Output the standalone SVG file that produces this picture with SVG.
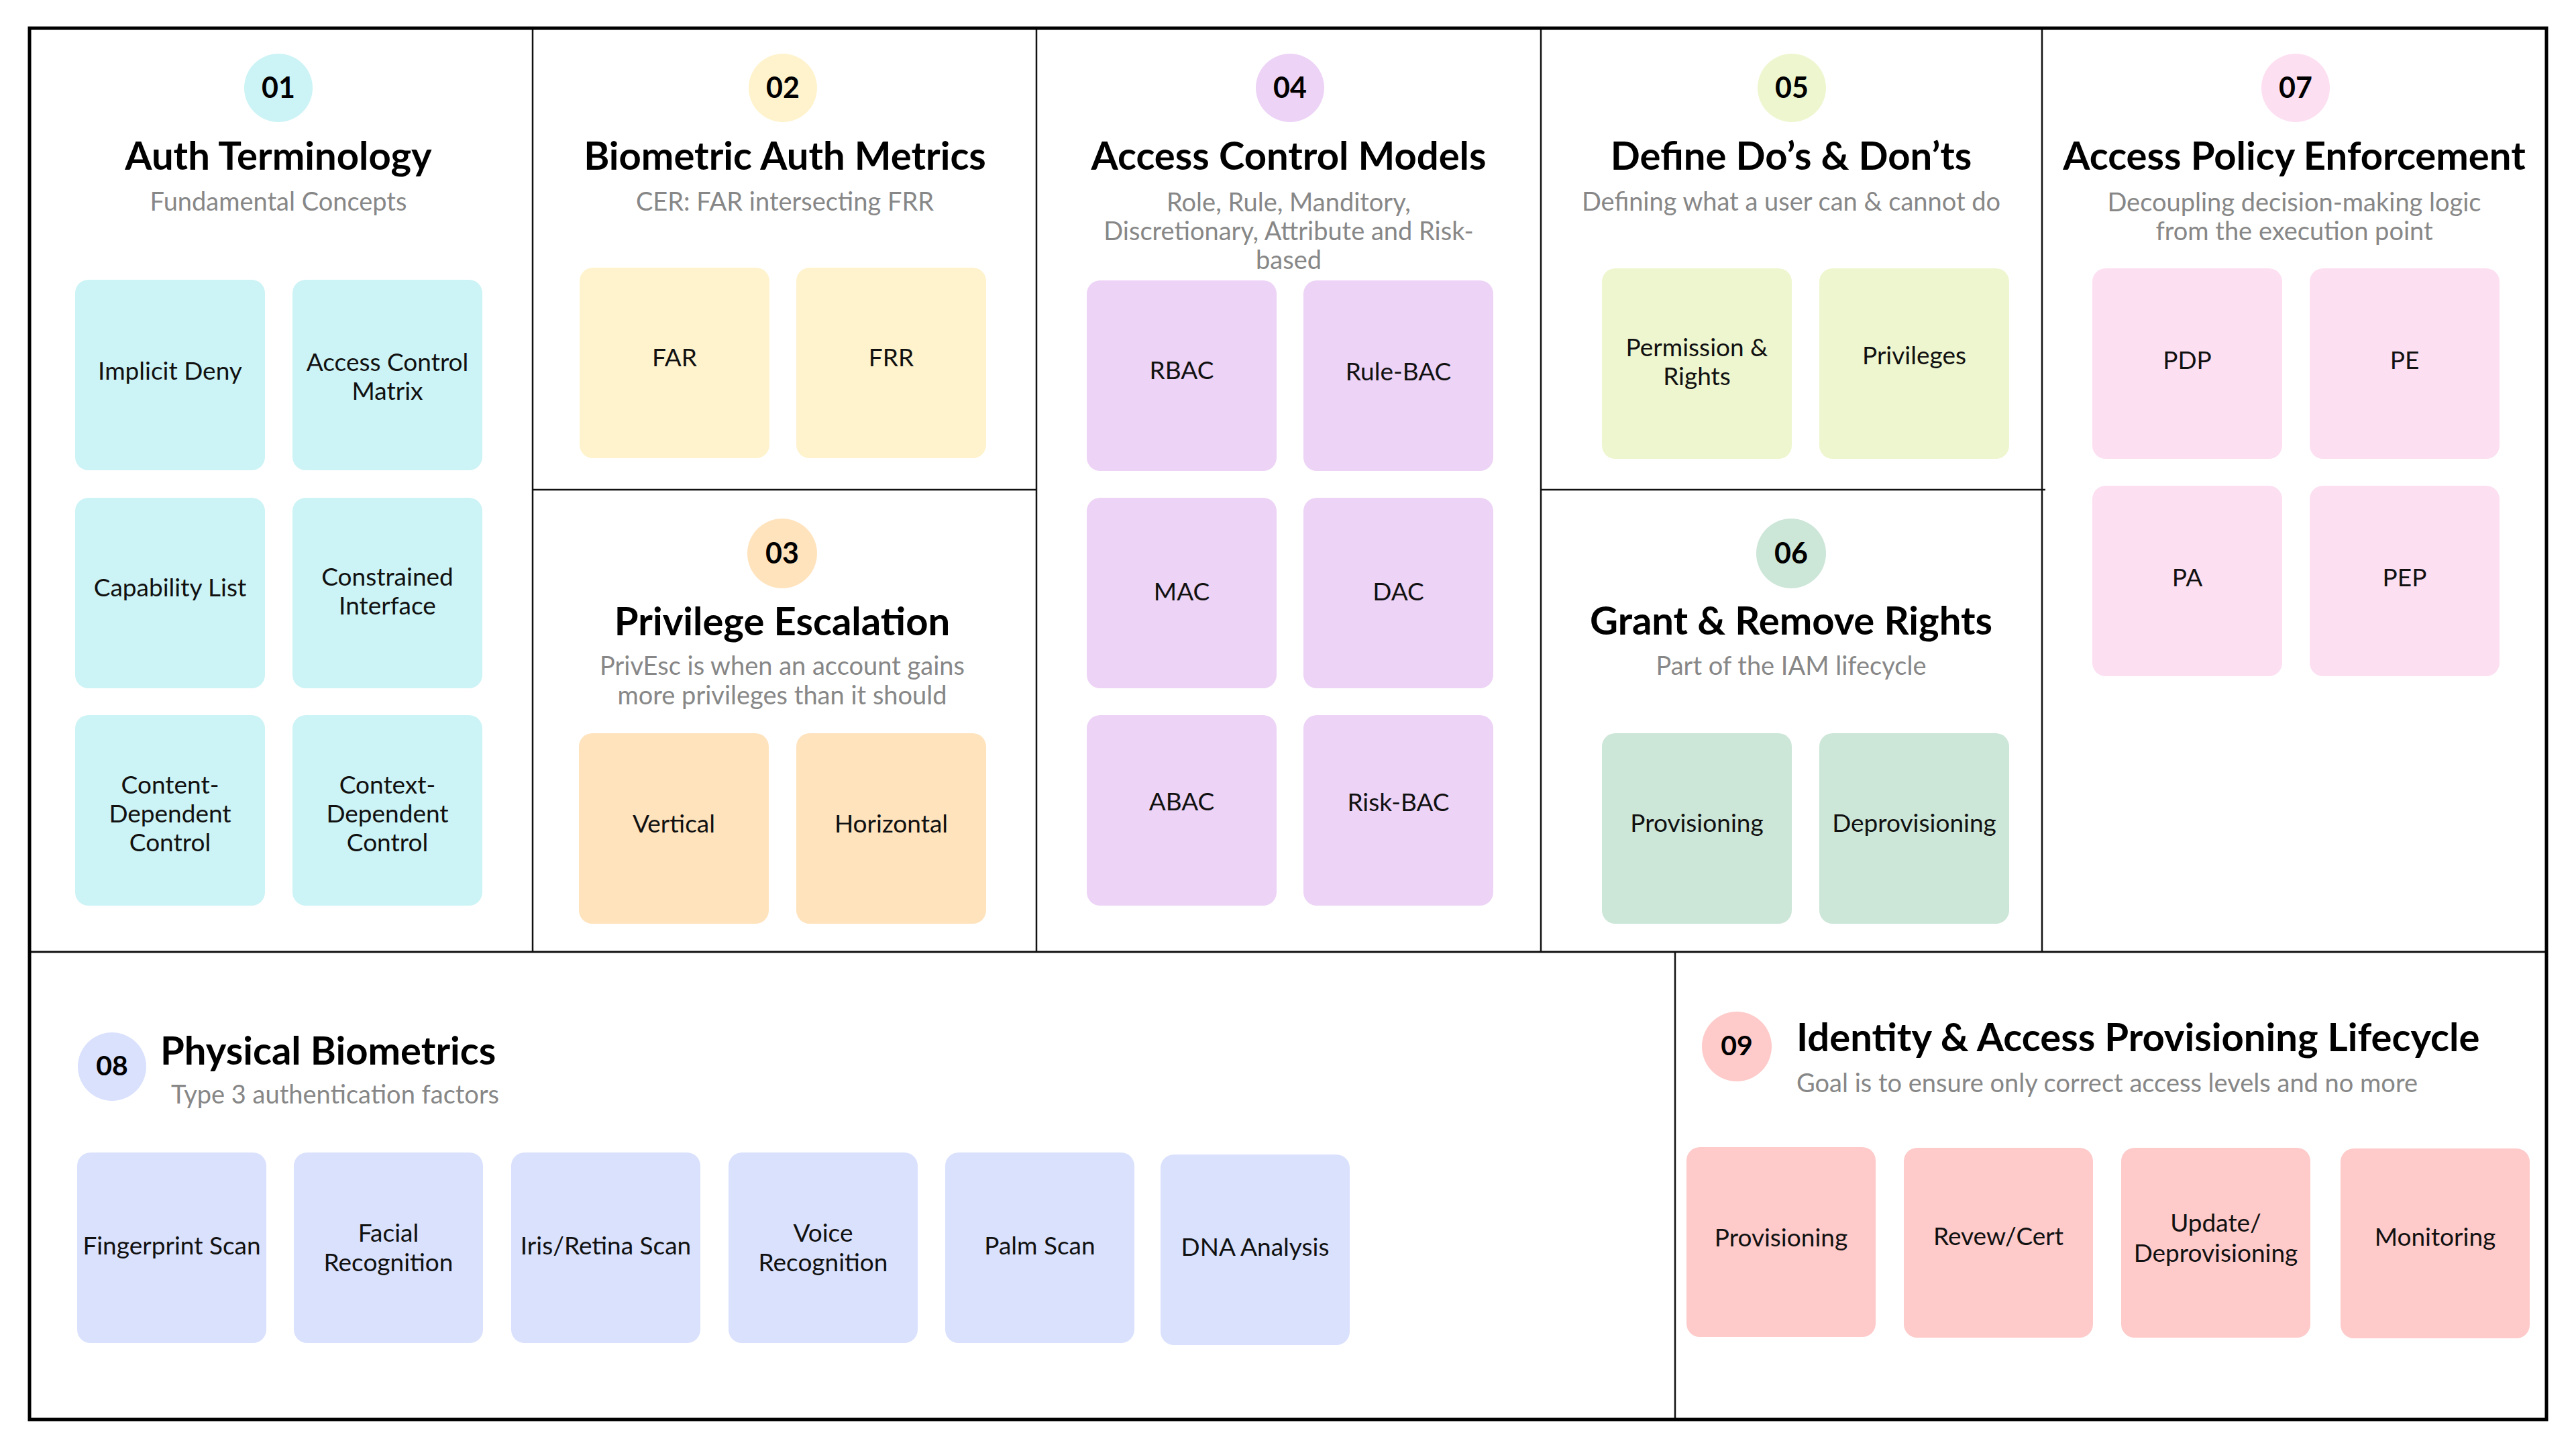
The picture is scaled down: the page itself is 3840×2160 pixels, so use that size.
<svg xmlns="http://www.w3.org/2000/svg" width="3840" height="2160" viewBox="0 0 3840 2160">
<style>
text{font-family:Lato,"Liberation Sans",sans-serif}
.ttl{font-size:58px;font-weight:700;fill:#000;text-anchor:middle}
.ttlL{font-size:58px;font-weight:700;fill:#000}
.sub{font-size:38px;fill:#878787;text-anchor:middle}
.subL{font-size:38px;fill:#878787}
.num{font-size:43px;font-weight:700;fill:#000;text-anchor:middle}
.nt{font-size:37px;fill:#111;text-anchor:middle}
.ln{stroke:#111;stroke-width:2.5;fill:none}
.c1{fill:#ccf3f5}.c2{fill:#fff3cd}.c3{fill:#ffe3bd}.c4{fill:#edd3f6}.c5{fill:#eef6cf}.c6{fill:#cce6d8}.c7{fill:#fddff2}.c8{fill:#dae1fd}.c9{fill:#fecaca}
</style>
<rect width="3840" height="2160" fill="#fff"/>
<g id="grid">
<line class="ln" x1="794" y1="42" x2="794" y2="1418"/>
<line class="ln" x1="1545" y1="42" x2="1545" y2="1418"/>
<line class="ln" x1="2297" y1="42" x2="2297" y2="1418"/>
<line class="ln" x1="3044" y1="42" x2="3044" y2="1418"/>
<line class="ln" x1="794" y1="730" x2="1545" y2="730"/>
<line class="ln" x1="2297" y1="730" x2="3049" y2="730"/>
<line class="ln" x1="44" y1="1419" x2="3796" y2="1419" style="stroke-width:3"/>
<line class="ln" x1="2497" y1="1419" x2="2497" y2="2116"/>
<rect x="44" y="42" width="3752" height="2074" fill="none" stroke="#000" stroke-width="5"/>
</g>
<g id="connectors"></g>

<g id="sec01">
<circle class="c1" cx="415" cy="131" r="51"/>
<text class="num" x="415" y="146">01</text>
<text class="ttl" x="415" y="253">Auth Terminology</text>
<text class="sub" x="415" y="314">Fundamental Concepts</text>
<g id="n-implicit-deny"><rect class="c1" x="112" y="417" width="283" height="284" rx="20"/><text class="nt" x="253.5" y="566">Implicit Deny</text></g>
<g id="n-acm"><rect class="c1" x="436" y="417" width="283" height="284" rx="20"/><text class="nt" x="577.5" y="553">Access Control</text><text class="nt" x="577.5" y="596">Matrix</text></g>
<g id="n-capability-list"><rect class="c1" x="112" y="742" width="283" height="284" rx="20"/><text class="nt" x="253.5" y="889">Capability List</text></g>
<g id="n-constrained"><rect class="c1" x="436" y="742" width="283" height="284" rx="20"/><text class="nt" x="577.5" y="873">Constrained</text><text class="nt" x="577.5" y="916">Interface</text></g>
<g id="n-content-dep"><rect class="c1" x="112" y="1066" width="283" height="284" rx="20"/><text class="nt" x="253.5" y="1183">Content-</text><text class="nt" x="253.5" y="1226">Dependent</text><text class="nt" x="253.5" y="1269">Control</text></g>
<g id="n-context-dep"><rect class="c1" x="436" y="1066" width="283" height="284" rx="20"/><text class="nt" x="577.5" y="1183">Context-</text><text class="nt" x="577.5" y="1226">Dependent</text><text class="nt" x="577.5" y="1269">Control</text></g>
</g>

<g id="sec02">
<circle class="c2" cx="1167" cy="131" r="51"/>
<text class="num" x="1167" y="146">02</text>
<text class="ttl" x="1170" y="253">Biometric Auth Metrics</text>
<text class="sub" x="1170" y="314">CER: FAR intersecting FRR</text>
<g id="n-far"><rect class="c2" x="864" y="399" width="283" height="284" rx="20"/><text class="nt" x="1005.5" y="546">FAR</text></g>
<g id="n-frr"><rect class="c2" x="1187" y="399" width="283" height="284" rx="20"/><text class="nt" x="1328.5" y="546">FRR</text></g>
</g>

<g id="sec03">
<circle class="c3" cx="1166" cy="825" r="52"/>
<text class="num" x="1166" y="840">03</text>
<text class="ttl" x="1166" y="947">Privilege Escalation</text>
<text class="sub" x="1166" y="1006">PrivEsc is when an account gains</text>
<text class="sub" x="1166" y="1050">more privileges than it should</text>
<g id="n-vertical"><rect class="c3" x="863" y="1093" width="283" height="284" rx="20"/><text class="nt" x="1004.5" y="1241">Vertical</text></g>
<g id="n-horizontal"><rect class="c3" x="1187" y="1093" width="283" height="284" rx="20"/><text class="nt" x="1328.5" y="1241">Horizontal</text></g>
</g>

<g id="sec04">
<circle class="c4" cx="1923" cy="131" r="51"/>
<text class="num" x="1923" y="146">04</text>
<text class="ttl" x="1921" y="253">Access Control Models</text>
<text class="sub" x="1921" y="315">Role, Rule, Manditory,</text>
<text class="sub" x="1921" y="358">Discretionary, Attribute and Risk-</text>
<text class="sub" x="1921" y="401">based</text>
<g id="n-rbac"><rect class="c4" x="1620" y="418" width="283" height="284" rx="20"/><text class="nt" x="1761.5" y="565">RBAC</text></g>
<g id="n-rule-bac"><rect class="c4" x="1943" y="418" width="283" height="284" rx="20"/><text class="nt" x="2084.5" y="567">Rule-BAC</text></g>
<g id="n-mac"><rect class="c4" x="1620" y="742" width="283" height="284" rx="20"/><text class="nt" x="1761.5" y="895">MAC</text></g>
<g id="n-dac"><rect class="c4" x="1943" y="742" width="283" height="284" rx="20"/><text class="nt" x="2084.5" y="895">DAC</text></g>
<g id="n-abac"><rect class="c4" x="1620" y="1066" width="283" height="284" rx="20"/><text class="nt" x="1761.5" y="1208">ABAC</text></g>
<g id="n-risk-bac"><rect class="c4" x="1943" y="1066" width="283" height="284" rx="20"/><text class="nt" x="2084.5" y="1209">Risk-BAC</text></g>
</g>

<g id="sec05">
<circle class="c5" cx="2671" cy="131" r="51"/>
<text class="num" x="2671" y="146">05</text>
<text class="ttl" x="2670" y="253">Define Do’s &amp; Don’ts</text>
<text class="sub" x="2670" y="314">Defining what a user can &amp; cannot do</text>
<g id="n-perm-rights"><rect class="c5" x="2388" y="400" width="283" height="284" rx="20"/><text class="nt" x="2529.5" y="531">Permission &amp;</text><text class="nt" x="2529.5" y="574">Rights</text></g>
<g id="n-privileges"><rect class="c5" x="2712" y="400" width="283" height="284" rx="20"/><text class="nt" x="2853.5" y="543">Privileges</text></g>
</g>

<g id="sec06">
<circle class="c6" cx="2670" cy="825" r="52"/>
<text class="num" x="2670" y="840">06</text>
<text class="ttl" x="2670" y="946">Grant &amp; Remove Rights</text>
<text class="sub" x="2670" y="1006">Part of the IAM lifecycle</text>
<g id="n-provisioning"><rect class="c6" x="2388" y="1093" width="283" height="284" rx="20"/><text class="nt" x="2529.5" y="1240">Provisioning</text></g>
<g id="n-deprovisioning"><rect class="c6" x="2712" y="1093" width="283" height="284" rx="20"/><text class="nt" x="2853.5" y="1240">Deprovisioning</text></g>
</g>

<g id="sec07">
<circle class="c7" cx="3422" cy="131" r="51"/>
<text class="num" x="3422" y="146">07</text>
<text class="ttl" x="3420" y="253">Access Policy Enforcement</text>
<text class="sub" x="3420" y="315">Decoupling decision-making logic</text>
<text class="sub" x="3420" y="358">from the execution point</text>
<g id="n-pdp"><rect class="c7" x="3119" y="400" width="283" height="284" rx="20"/><text class="nt" x="3260.5" y="550">PDP</text></g>
<g id="n-pe"><rect class="c7" x="3443" y="400" width="283" height="284" rx="20"/><text class="nt" x="3584.5" y="550">PE</text></g>
<g id="n-pa"><rect class="c7" x="3119" y="724" width="283" height="284" rx="20"/><text class="nt" x="3260.5" y="874">PA</text></g>
<g id="n-pep"><rect class="c7" x="3443" y="724" width="283" height="284" rx="20"/><text class="nt" x="3584.5" y="874">PEP</text></g>
</g>

<g id="sec08">
<circle class="c8" cx="167" cy="1590" r="51"/>
<text class="num" x="167" y="1603" style="font-size:41px">08</text>
<text class="ttlL" x="239" y="1587">Physical Biometrics</text>
<text class="subL" x="255" y="1645">Type 3 authentication factors</text>
<g id="n-fingerprint"><rect class="c8" x="115" y="1718" width="282" height="284" rx="20"/><text class="nt" x="256" y="1870">Fingerprint Scan</text></g>
<g id="n-facial"><rect class="c8" x="438" y="1718" width="282" height="284" rx="20"/><text class="nt" x="579" y="1851">Facial</text><text class="nt" x="579" y="1895">Recognition</text></g>
<g id="n-iris"><rect class="c8" x="762" y="1718" width="282" height="284" rx="20"/><text class="nt" x="903" y="1870">Iris/Retina Scan</text></g>
<g id="n-voice"><rect class="c8" x="1086" y="1718" width="282" height="284" rx="20"/><text class="nt" x="1227" y="1851">Voice</text><text class="nt" x="1227" y="1895">Recognition</text></g>
<g id="n-palm"><rect class="c8" x="1409" y="1718" width="282" height="284" rx="20"/><text class="nt" x="1550" y="1870">Palm Scan</text></g>
<g id="n-dna"><rect class="c8" x="1730" y="1721" width="282" height="284" rx="20"/><text class="nt" x="1871" y="1872">DNA Analysis</text></g>
</g>

<g id="sec09">
<circle class="c9" cx="2589" cy="1560" r="52"/>
<text class="num" x="2589" y="1573" style="font-size:41px">09</text>
<text class="ttlL" x="2678" y="1567">Identity &amp; Access Provisioning Lifecycle</text>
<text class="subL" x="2678" y="1628">Goal is to ensure only correct access levels and no more</text>
<g id="n-iam-provisioning"><rect class="c9" x="2514" y="1710" width="282" height="283" rx="20"/><text class="nt" x="2655" y="1858">Provisioning</text></g>
<g id="n-review-cert"><rect class="c9" x="2838" y="1711" width="282" height="283" rx="20"/><text class="nt" x="2979" y="1856">Revew/Cert</text></g>
<g id="n-update-deprov"><rect class="c9" x="3162" y="1711" width="282" height="283" rx="20"/><text class="nt" x="3303" y="1836">Update/</text><text class="nt" x="3303" y="1881">Deprovisioning</text></g>
<g id="n-monitoring"><rect class="c9" x="3489" y="1712" width="282" height="283" rx="20"/><text class="nt" x="3630" y="1857">Monitoring</text></g>
</g>
</svg>
